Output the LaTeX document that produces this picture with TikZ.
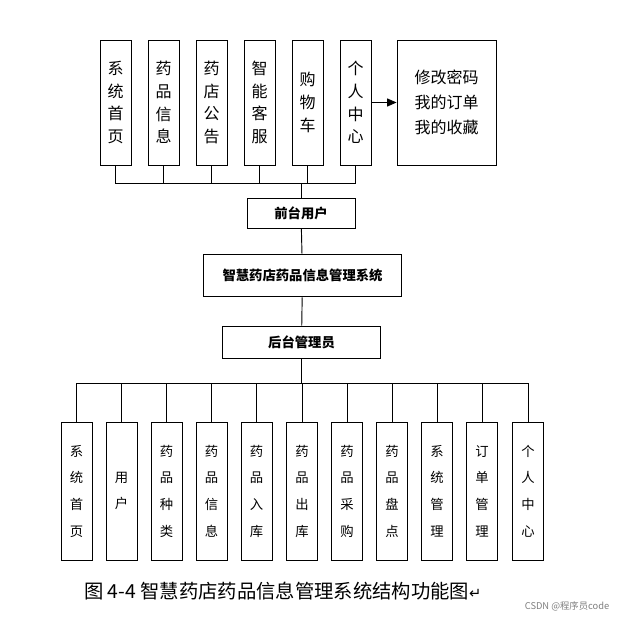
\documentclass[tikz,border=0pt]{standalone}
\usepackage{fontspec}
\setmainfont{Noto Sans CJK SC}
\newfontfamily\dejavu{DejaVu Sans}
\usetikzlibrary{arrows.meta}
\begin{document}
\begin{tikzpicture}[x=0.75pt,y=-0.75pt,
  bx/.style={draw,line width=0.7pt,inner sep=0pt,align=center},
  topb/.style={bx,minimum width=23.25pt,minimum height=93.75pt,font=\fontsize{12}{17}\selectfont},
  botb/.style={bx,minimum width=23.25pt,minimum height=103.5pt,font=\fontsize{10}{20}\selectfont},
  midb/.style={bx,font=\bfseries\fontsize{10}{12}\selectfont},
  ln/.style={line width=0.7pt}]
\useasboundingbox (0,0) rectangle (618,617);
\fill[white] (0,0) rectangle (618,617);
% top
\foreach \n/\x/\t in {t1/115.5/系\\统\\首\\页, t2/163.5/药\\品\\信\\息, t3/211.5/药\\店\\公\\告, t4/259.5/智\\能\\客\\服, t5/307.5/购\\物\\车, t6/355.5/个\\人\\中\\心}
  \node[topb] (\n) at (\x,102.5) {\t};
\node[bx,minimum width=74.25pt,minimum height=93.75pt,font=\fontsize{12}{19}\selectfont] (t7) at (446.5,102.5) {修改密码\\我的订单\\我的收藏};
\draw[ln,-{Triangle[length=7pt,width=6pt]}] (t6) -- (t7);
\node[midb,minimum width=81pt,minimum height=22.5pt] (q) at (301,213) {前台用户};
\node[midb,minimum width=149pt,minimum height=32pt] (s) at (302.5,275.5) {智慧药店药品信息管理系统};
\node[midb,minimum width=119pt,minimum height=24pt] (h) at (301.5,342) {后台管理员};
\coordinate (tb) at (301,183);
\foreach \n in {t1,t2,t3,t4,t5,t6} \draw[ln] (\n.south) |- (tb);
\draw[ln] (tb) -- (q.north);
\draw[ln] (q) -- (s);
\draw[ln] (s) -- (h);
\coordinate (bb) at (301.5,383);
\draw[ln] (h.south) -- (bb);
\foreach \n/\x/\t in {b1/76.5/系\\统\\首\\页, b2/121.5/用\\户, b3/166.5/药\\品\\种\\类, b4/211.5/药\\品\\信\\息, b5/256.5/药\\品\\入\\库, b6/302/药\\品\\出\\库, b7/347/药\\品\\采\\购, b8/392/药\\品\\盘\\点, b9/437/系\\统\\管\\理, b10/482/订\\单\\管\\理, b11/528/个\\人\\中\\心}
  {\node[botb] (\n) at (\x,491) {\t};
   \draw[ln] (\n.north) |- (bb);}
\node[font=\fontsize{14.5}{16}\selectfont,anchor=west,inner sep=0pt] (cap) at (84,591) {图 4-4 智慧药店药品信息管理系统结构功能图{\dejavu\fontsize{11}{12}\selectfont ↵}};
\node[font=\fontsize{7}{8}\selectfont,text=gray,anchor=east] (wm) at (614,606) {CSDN @程序员code};
\end{tikzpicture}
\end{document}
